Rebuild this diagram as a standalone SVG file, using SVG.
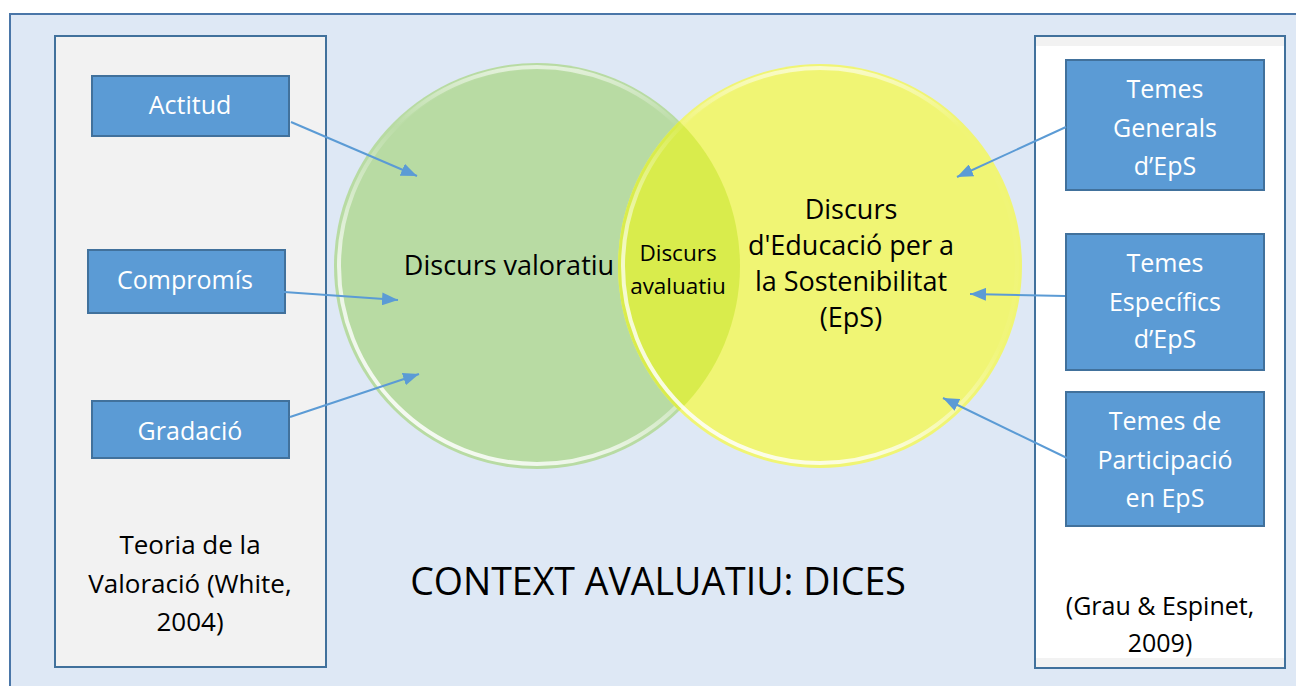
<svg xmlns="http://www.w3.org/2000/svg" width="1296" height="686" viewBox="0 0 1296 686">
<style>
.t{font-family:"Open Sans","Liberation Sans",sans-serif;text-anchor:middle}
.box{fill:#5b9bd5;stroke:#41719c;stroke-width:2}
.bt{fill:#ffffff;font-size:25px}
.blk{fill:#000000}
.conn{stroke:#5b9bd5;stroke-width:2;fill:none;marker-end:url(#ah)}
</style>
<defs>
<marker id="ah" markerUnits="userSpaceOnUse" markerWidth="16" markerHeight="13" viewBox="0 0 16 13" refX="16" refY="6.5" orient="auto">
<path d="M0,0 L16,6.5 L0,13 z" fill="#5b9bd5"/>
</marker>
<linearGradient id="rim" x1="0.9" y1="0" x2="0.2" y2="1">
<stop offset="0" stop-color="#ffffff" stop-opacity="0"/>
<stop offset="0.45" stop-color="#ffffff" stop-opacity="0.05"/>
<stop offset="0.75" stop-color="#ffffff" stop-opacity="0.7"/>
<stop offset="1" stop-color="#ffffff" stop-opacity="0.9"/>
</linearGradient>
<linearGradient id="rimtop" x1="0" y1="0" x2="0" y2="1">
<stop offset="0" stop-color="#ffffff" stop-opacity="0.6"/>
<stop offset="0.15" stop-color="#ffffff" stop-opacity="0"/>
<stop offset="1" stop-color="#ffffff" stop-opacity="0"/>
</linearGradient>
<clipPath id="gclip"><circle cx="537" cy="266" r="203"/></clipPath>
</defs>

<rect x="0" y="0" width="1296" height="686" fill="#ffffff"/>
<g id="frame">
<rect x="10" y="14" width="1300" height="690" fill="#dee8f5" stroke="#4a76a8" stroke-width="2"/>
</g>

<g id="panel-left">
<rect x="55" y="36" width="271" height="631" fill="#f2f2f2" stroke="#41719c" stroke-width="2"/>
<text class="t blk" font-size="26"><tspan x="190" y="554">Teoria de la</tspan><tspan x="190" y="593">Valoració (White,</tspan><tspan x="190" y="631">2004)</tspan></text>
</g>

<g id="panel-right">
<rect x="1035" y="36" width="250" height="632" fill="#ffffff" stroke="#41719c" stroke-width="2"/>
<rect x="1036" y="37" width="248" height="9" fill="#f2f2f2"/>
<rect x="1036" y="658" width="248" height="9" fill="#f2f2f2"/>
<text class="t blk" font-size="25"><tspan x="1160" y="615">(Grau &amp; Espinet,</tspan><tspan x="1160" y="652">2009)</tspan></text>
</g>

<g id="circle-valoratiu">
<circle cx="537" cy="266" r="203" fill="#b8dba3"/>
<circle cx="537" cy="266" r="198" fill="none" stroke="url(#rim)" stroke-width="4"/>
<circle cx="537" cy="266" r="199" fill="none" stroke="url(#rimtop)" stroke-width="4"/>
<text class="t blk" font-size="27" x="509" y="275">Discurs valoratiu</text>
</g>

<g id="circle-eps">
<circle cx="820" cy="266" r="202" fill="#f0f574"/>
<circle cx="820" cy="266" r="202" fill="#d9ec4c" clip-path="url(#gclip)"/>
<circle cx="820" cy="266" r="197" fill="none" stroke="url(#rim)" stroke-width="4"/>
<circle cx="820" cy="266" r="198" fill="none" stroke="url(#rimtop)" stroke-width="4"/>
<text class="t blk" font-size="27"><tspan x="851" y="219">Discurs</tspan><tspan x="851" y="255">d'Educació per a</tspan><tspan x="851" y="291">la Sostenibilitat</tspan><tspan x="851" y="327">(EpS)</tspan></text>
</g>

<g id="overlap-label">
<text class="t blk" font-size="22.5"><tspan x="678" y="261">Discurs</tspan><tspan x="678" y="294">avaluatiu</tspan></text>
</g>

<g id="context-label">
<text class="t blk" font-size="37.5" x="658" y="595">CONTEXT AVALUATIU: DICES</text>
</g>

<g id="node-actitud">
<rect class="box" x="92" y="76" width="197" height="60"/>
<text class="t bt" x="190" y="114">Actitud</text>
</g>
<g id="node-compromis">
<rect class="box" x="88" y="250" width="197" height="63"/>
<text class="t bt" x="185" y="289">Compromís</text>
</g>
<g id="node-gradacio">
<rect class="box" x="92" y="401" width="197" height="57"/>
<text class="t bt" x="190" y="440">Gradació</text>
</g>

<g id="node-temes-generals">
<rect class="box" x="1066" y="60" width="198" height="130"/>
<text class="t bt"><tspan x="1165" y="98">Temes</tspan><tspan x="1165" y="137">Generals</tspan><tspan x="1165" y="175">d’EpS</tspan></text>
</g>
<g id="node-temes-especifics">
<rect class="box" x="1066" y="234" width="198" height="136"/>
<text class="t bt"><tspan x="1165" y="272">Temes</tspan><tspan x="1165" y="311">Específics</tspan><tspan x="1165" y="348">d’EpS</tspan></text>
</g>
<g id="node-temes-participacio">
<rect class="box" x="1066" y="392" width="198" height="134"/>
<text class="t bt"><tspan x="1165" y="430">Temes de</tspan><tspan x="1165" y="469">Participació</tspan><tspan x="1165" y="507">en EpS</tspan></text>
</g>

<g id="connectors">
<line class="conn" x1="291" y1="122" x2="417" y2="176"/>
<line class="conn" x1="284" y1="292" x2="398" y2="300"/>
<line class="conn" x1="290" y1="417" x2="419" y2="374"/>
<line class="conn" x1="1066" y1="127" x2="957" y2="177"/>
<line class="conn" x1="1065" y1="296" x2="970" y2="294"/>
<line class="conn" x1="1067" y1="458" x2="943" y2="398"/>
</g>
</svg>
